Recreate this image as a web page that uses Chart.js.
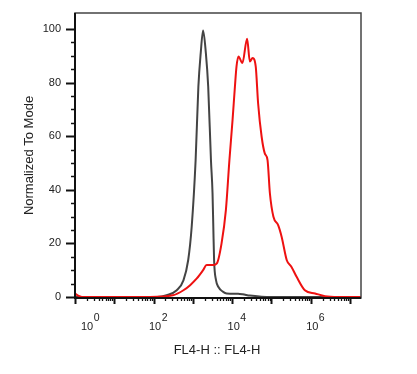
<!DOCTYPE html>
<html>
<head>
<meta charset="utf-8">
<script src="https://cdn.jsdelivr.net/npm/chart.js@4/dist/chart.umd.min.js"></script>
<style>
    body { margin: 0; background: white; }
    #wrap { width: 417px; height: 374px; }
</style>
</head>
<body>
<div id="wrap"><canvas id="histChart" width="417" height="374"></canvas></div>
<script>
// control sample (grey) : FL4-H value / % of mode
const grayFL4 = [1, 123, 214, 389, 575, 759, 933, 1175, 1380, 1585, 1820, 2138, 2455, 2884, 3162, 3311, 3467, 3890, 4467, 5888, 7244, 14125, 18620, 28184, 56234, 100000, 19000000];
const grayMode = [0, 0, 0.6, 2.5, 6.2, 13.7, 26.2, 51.1, 78.5, 91.1, 99.5, 91.1, 78.5, 51.1, 38.8, 26.2, 13.7, 6.2, 3.7, 1.9, 1.3, 1.2, 1.0, 0.5, 0.1, 0, 0];

// stained sample (red)
const redFL4 = [1, 1.2, 1.5, 81, 309, 575, 851, 1259, 1820, 2239, 3311, 4074, 5370, 6918, 8511, 10233, 11749, 12882, 14454, 18197, 23988, 28184, 33113, 39811, 45709, 56234, 67608, 79433, 91201, 112202, 147911, 181970, 245471, 323594, 436516, 707946, 1288250, 2290868, 5011872, 19000000];
const redMode = [1.3, 0.45, 0, 0, 0.6, 2.5, 4.4, 6.9, 10.0, 11.9, 11.9, 12.5, 20.0, 32.4, 51.1, 66.1, 78.5, 86.0, 89.8, 87.3, 96.4, 87.9, 89.2, 86.0, 72.3, 59.8, 53.6, 51.1, 38.7, 29.9, 26.8, 22.4, 13.7, 11.2, 7.5, 2.5, 1.3, 0.3, 0, 0];

const yTickValues = [0, 20, 40, 60, 80, 100];
const xTickExponents = [0, 2, 4, 6];
const xTitle = "FL4-H :: FL4-H";
const yTitle = "Normalized To Mode";

var toPoints = (xs, ys) => {
    let data = [];
    for (let i = 0; i < xs.length; i++) {
        data.push({ x: xs[i], y: ys[i] });
    }
    return data;
}

var textColor = "#222222";

var axesPlugin = {
    id: 'flowAxes',
    afterDraw: (chart) => {
        const ctx = chart.ctx;
        const area = chart.chartArea;
        const xScale = chart.scales.x;
        const yScale = chart.scales.y;
        ctx.save();

        // frame
        ctx.strokeStyle = "#444444";
        ctx.lineWidth = 1.5;
        ctx.strokeRect(area.left, area.top, area.right - area.left, area.bottom - area.top);
        ctx.strokeStyle = "#111111";
        ctx.lineWidth = 2;
        ctx.beginPath();
        ctx.moveTo(area.left, area.top);
        ctx.lineTo(area.left, area.bottom);
        ctx.lineTo(area.right, area.bottom);
        ctx.stroke();

        // y ticks, every 5 with majors every 20
        for (let v = 0; v <= 100; v += 5) {
            let y = Math.round(yScale.getPixelForValue(v)) + 0.5;
            let len = v % 20 === 0 ? 9 : 4;
            ctx.lineWidth = v % 20 === 0 ? 2 : 1.5;
            ctx.beginPath();
            ctx.moveTo(area.left - len, y);
            ctx.lineTo(area.left, y);
            ctx.stroke();
        }

        ctx.fillStyle = textColor;
        ctx.font = '11px "Liberation Sans", Arial, sans-serif';
        ctx.textAlign = "right";
        ctx.textBaseline = "middle";
        for (let i = 0; i < yTickValues.length; i++) {
            ctx.fillText(String(yTickValues[i]), area.left - 14, yScale.getPixelForValue(yTickValues[i]));
        }

        // x ticks, decades plus 2..9 minors
        for (let e = 0; e <= 8; e++) {
            for (let m = 1; m <= 9; m++) {
                let val = m * Math.pow(10, e);
                if (val > xScale.max) break;
                let x = Math.round(xScale.getPixelForValue(val)) + 0.5;
                let len = m === 1 ? 6 : 3;
                ctx.lineWidth = m === 1 ? 2 : 1.3;
                ctx.beginPath();
                ctx.moveTo(x, area.bottom);
                ctx.lineTo(x, area.bottom + len);
                ctx.stroke();
            }
        }

        // x tick labels 10^n
        ctx.textAlign = "left";
        for (let i = 0; i < xTickExponents.length; i++) {
            let x = xScale.getPixelForValue(Math.pow(10, xTickExponents[i])) + 1.5;
            ctx.font = '11px "Liberation Sans", Arial, sans-serif';
            let baseW = ctx.measureText("10").width;
            let left = x - baseW / 2;
            if (left < area.left + 6) left = area.left + 6;
            ctx.fillText("10", left, 327);
            ctx.font = '10.5px "Liberation Sans", Arial, sans-serif';
            ctx.fillText(String(xTickExponents[i]), left + baseW + 0.5, 318.5);
        }

        // axis titles
        ctx.font = '13px "Liberation Sans", Arial, sans-serif';
        ctx.textAlign = "center";
        ctx.fillText(xTitle, (area.left + area.right) / 2 - 1, 350);
        ctx.translate(29, (area.top + area.bottom) / 2);
        ctx.rotate(-Math.PI / 2);
        ctx.fillText(yTitle, 0, 0);

        ctx.restore();
    }
};

window.onload = () => {
    const ctx = document.getElementById('histChart').getContext('2d');
    new Chart(ctx, {
        type: 'scatter',
        data: {
            datasets: [{
                label: 'Control',
                data: toPoints(grayFL4, grayMode),
                showLine: true,
                borderColor: '#444444',
                backgroundColor: '#444444',
                borderWidth: 2,
                pointRadius: 0,
                cubicInterpolationMode: 'monotone',
                order: 2
            },
            {
                label: 'Stained',
                data: toPoints(redFL4, redMode),
                showLine: true,
                borderColor: '#ee1111',
                backgroundColor: '#ee1111',
                borderWidth: 2,
                pointRadius: 0,
                cubicInterpolationMode: 'monotone',
                order: 1
            }]
        },
        options: {
            responsive: false,
            animation: false,
            devicePixelRatio: 1,
            layout: {
                padding: { left: 75, right: 56, top: 13, bottom: 76 }
            },
            plugins: {
                legend: { display: false },
                tooltip: { enabled: false }
            },
            scales: {
                x: {
                    type: 'logarithmic',
                    min: 1,
                    max: 19000000,
                    display: false
                },
                y: {
                    type: 'linear',
                    min: -0.4,
                    max: 106,
                    display: false
                }
            }
        },
        plugins: [axesPlugin]
    });
}
</script>
</body>
</html>
